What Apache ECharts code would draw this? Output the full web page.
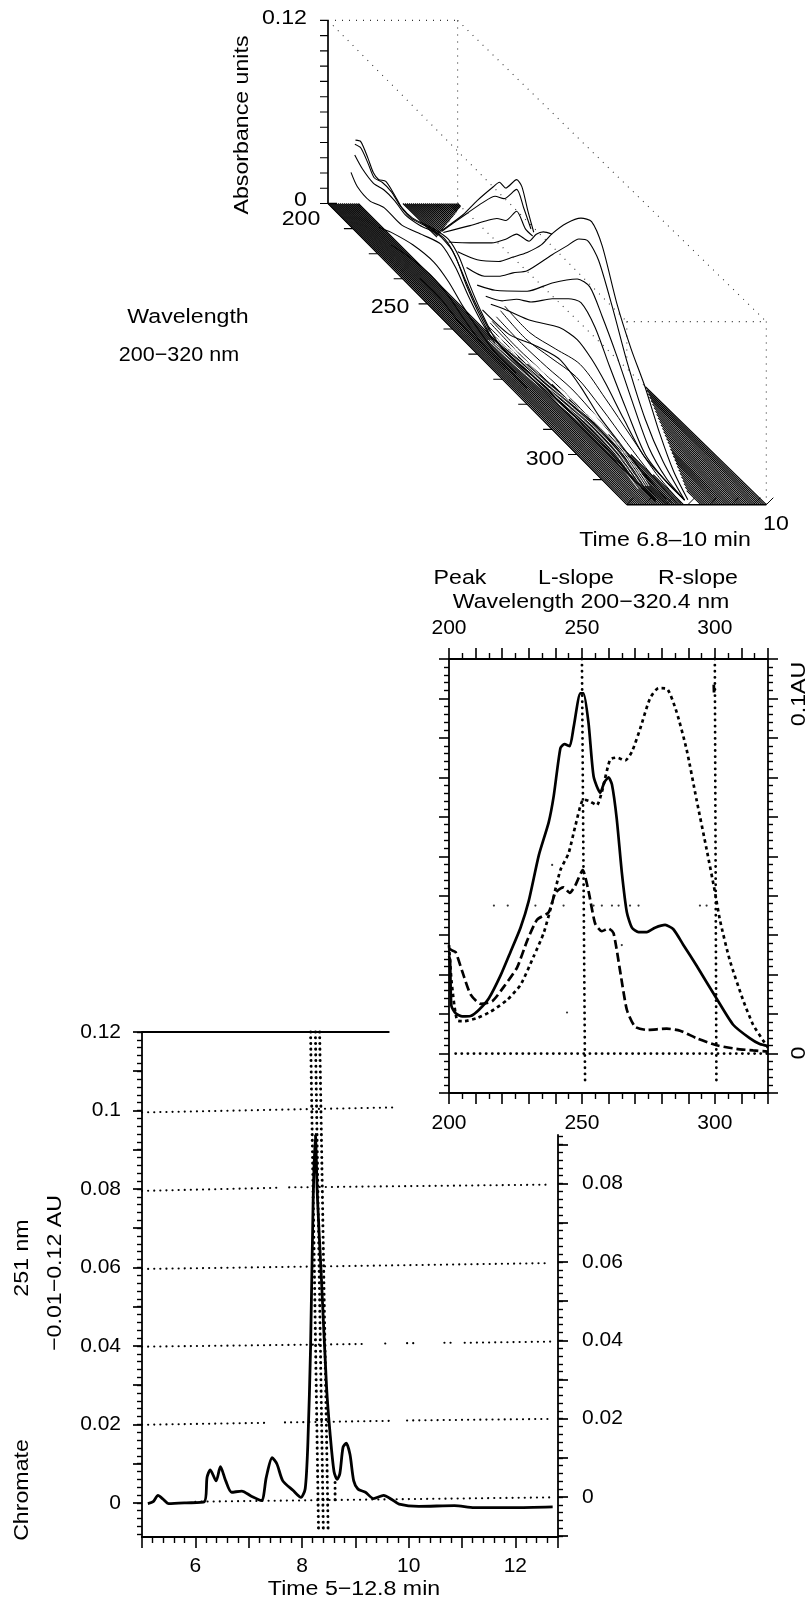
<!DOCTYPE html>
<html><head><meta charset="utf-8">
<style>html,body{margin:0;padding:0;background:#fff}#c{width:812px;height:1602px}</style>
<script src="https://cdn.jsdelivr.net/npm/echarts@6/dist/echarts.min.js"></script>
</head><body><div id="c"></div>
<script>
// ---------- spectra panel (wavelength nm / absorbance AU)
const peakWl=[200,200.4,200.9,202.5,205,208.1,211.3,215,219.4,223.1,226.9,230,233.8,237.5,239.4,241.9,243.4,245.4,246.9,249.4,250.6,252.5,254.4,256.9,258.4,260,261.3,263.1,265,266.9,268.8,271.3,274.4,277.5,281.3,284.4,288.1,293.1,300.6,306.9,313.1,316.9,320];
const peakAu=[.0247,.0237,.0121,.0102,.0094,.0095,.0111,.014,.0198,.0257,.0319,.0387,.0503,.0586,.0653,.0774,.0784,.0779,.0828,.0913,.0913,.0837,.0702,.0661,.0687,.07,.0682,.0595,.046,.0358,.0319,.0308,.0308,.0319,.0326,.0315,.0276,.0223,.014,.0073,.0039,.0024,.0019];
const rslopeWl=[200,201,203.1,205.6,210.6,215.6,221.9,226.9,231.9,235.6,238.8,241.9,245,247.5,250.6,253.1,255.6,257.5,260.6,263.1,266.3,268.8,271.9,275.6,278.8,281.9,285.6,289.4,293.1,296.9,300,301.9,305.6,310.6,314.4,318.1,320];
const rslopeAu=[.0275,.018,.0084,.0082,.009,.0106,.0136,.0174,.0247,.0305,.0382,.0465,.0508,.0576,.0644,.0639,.0629,.0663,.0745,.075,.0743,.0765,.0823,.09,.0926,.0925,.0866,.077,.0644,.0518,.0411,.0339,.0237,.0136,.0073,.0034,.0015];
const lslopeWl=[200,201.3,202.5,205,208.1,211.9,216.3,220.6,225.6,229.4,233.1,237.5,240,243.1,245.4,247.5,250.3,252.5,255,257.5,260,261.9,264.4,266.9,270,274.4,281.9,286.9,293.1,300.6,308.1,314.4,320];
const lslopeAu=[.0266,.0261,.0257,.0208,.015,.0126,.0133,.0169,.0218,.0286,.0339,.0358,.0407,.0421,.0407,.0426,.0465,.0411,.0329,.031,.0317,.0305,.0208,.0111,.0068,.006,.0063,.0058,.0039,.0021,.0012,.0008,.0005];
const specksWl=[216.9,222.1,232.5,243.1,254.4,257.5,261.3,263.8,268.1,271.3,294.4,296.9,238.8,265,244.4];
const specksAu=[.0375,.0375,.0375,.0375,.0375,.0375,.0375,.0375,.0375,.0375,.0375,.0375,.0478,.0275,.0104];
const specXTicks=[200,250,300];
// ---------- chromatogram panel (time min / AU)
const chromT=[5.11,5.21,5.3,5.39,5.5,5.83,6.17,6.22,6.28,6.39,6.47,6.57,6.68,6.87,7.05,7.24,7.33,7.44,7.53,7.64,7.83,7.98,8.06,8.11,8.16,8.21,8.25,8.29,8.36,8.46,8.53,8.6,8.66,8.71,8.77,8.83,8.9,8.97,9.05,9.19,9.34,9.53,9.67,9.82,10.19,10.86,11.23,11.96,12.7];
const chromAu=[-.0002,.0003,.0019,.001,-.0002,0,.0003,.0065,.0084,.0056,.0092,.0056,.0027,.003,.0017,.0006,.0065,.0115,.0099,.0056,.0032,.0014,.0036,.0152,.0392,.0776,.0939,.0776,.0584,.0296,.0171,.008,.006,.0075,.0142,.0152,.0123,.0056,.0035,.0027,.0011,.0019,.001,-.0003,-.0009,-.0007,-.0012,-.0012,-.001];
const chromLeftLabels=[0,.02,.04,.06,.08,.1,.12];
const chromRightLabels=[0,.02,.04,.06,.08];
const chromXLabels=[6,8,10,12];
// tilted dotted reference lines: [t, AU] pairs, null = gap
const ref10=[[5,.0995],[9.8,.1008]];
const ref08=[[5,.0795],[7.53,.0803],null,[7.76,.0804],[12.63,.0811]];
const ref06=[[5,.0596],[12.63,.0611]];
const ref04=[[5,.0398],[9.23,.0405],null,[9.56,.0406],[9.6,.0406],null,[9.97,.0407],[10.19,.0407],null,[10.67,.0408],[10.86,.0408],null,[11.05,.0408],[12.67,.0411]];
const ref02=[[5,.0199],[7.35,.0204],null,[7.68,.0205],[9.64,.0209],null,[9.97,.021],[12.67,.0214]];
const ref00=[[6.0,.0003],[12.67,.0014]];
const vDotA=[[8.16,.12],[8.31,-.0074]];
const vDotB=[[8.25,.12],[8.4,-.0074]];
const vDotC=[[8.33,.12],[8.49,-.0074]];
const vDotD=[[8.62,.0052],[8.62,.0005]];
// ---------- waterfall traces: time (min), wavelength (nm), absorbance (AU)
const traceA={t:8.2,wl:[222.5,231,236.6,243,245.4,247.9,252.2,254.3,256.7,259],au:[.0192,.0436,.0621,.0817,.0886,.0889,.1015,.1004,.0882,.0782]};
const traceB={t:8.2,wl:[222.5,232.4,238.8,243.7,247.2,252.2,255,257.9],au:[.0187,.0466,.0644,.0766,.0808,.0951,.0877,.0785]};
const traceC={t:8.2,wl:[223.2,233.8,240.9,244.4,247.9,252.2,255.7,258.6],au:[.0192,.0411,.0563,.0632,.0676,.0808,.075,.075]};
const traceD={t:8.2,wl:[225.3,233.8,242.3,247.9,252.2,257.1,260,262.8,266.3],au:[.0164,.0298,.0438,.0554,.0658,.0692,.0785,.0847,.0889]};
const traceE={t:8.2,wl:[228.9,236.6,245.1,250.8,256.4,262.1,266.3,272,277.7,281.9,286.1,291.8,297.5,303.1,308.8,314.4,320],au:[.0159,.0233,.0362,.0485,.0607,.0752,.0893,.1055,.1182,.1228,.1138,.0861,.0653,.0492,.0286,.0125,.0032]};
const traceF={t:8.2,wl:[232.4,239.5,245.1,250.8,256.4,266.3,272,276.9,280.5,284.7,290.4,296,303.1,310.2,318.7],au:[.0113,.0173,.0265,.0381,.0487,.0755,.0905,.1032,.1078,.102,.0792,.0538,.0284,.0122,.0009]};
const traceG={t:8.2,wl:[236.6,243.7,256.4,266.3,276.2,281.2,286.1,291.8,297.5,304.5,311.6,318.7],au:[.0067,.015,.0353,.057,.0759,.0789,.0676,.0515,.033,.0122,.0032,.0009]};
const traceH={t:8.2,wl:[240,246.5,252.2,257.9,266.3,272.7,277.7,283.3,289,296,303.1,311.6,318.7],au:[.005,.0127,.0231,.0307,.0466,.0572,.0628,.0558,.0397,.0215,.0053,.0009,.0009]};
const traceI={t:8.2,wl:[242,247.9,257.9,269.2,276.2,281.9,287.6,294.6,303.1,318.7],au:[.003,.0092,.0185,.0325,.0362,.0328,.0258,.0145,.003,.0009]};
const traceJ={t:7.8,wl:[245.3,256,266,276,284.4,291.5,300,308.5,318.5],au:[.0048,.0062,.0157,.0228,.0185,.0115,.0072,.0028,.001]};
const traceK={t:7.55,wl:[251.5,261.5,272.9,284.3,295.7,307.1,318.5],au:[0,0,.0018,.0021,.0025,.0005,.0007]};
const traceL1={t:7.46,wl:[200.3,202.4,205.3,207.4,209.5,212.4,216,218.8,223.1,231.6,237.3,241.6,245.9,250.1,255.8,263,320],au:[.042,.0445,.0383,.0325,.0314,.0349,.0316,.0282,.0284,.0353,.038,.0335,.022,.0127,.0037,.0016,.002]};
const traceL2={t:7.42,wl:[200.7,203.1,206,208.4,211.7,215.3,218.8,223.1,231,236.7,240.9,245.2,249.5,255.2],au:[.04,.0415,.036,.0307,.033,.0328,.0293,.0284,.0344,.0369,.0323,.0208,.0118,.0028]};
const traceL3={t:7.38,wl:[201.3,204.4,208.7,213,217.3,221.5,227.2,234.4,240.1,245.1,249.4,255.1],au:[.0339,.0298,.0277,.0302,.0302,.0279,.0305,.0365,.0355,.0254,.0162,.0072]};
const traceL4={t:7.3,wl:[201.1,203.6,208.6,214.3,221.4,230,237.1,242.9,247.9,252.9,258.6],au:[.0222,.0171,.0159,.0208,.021,.0286,.0342,.0286,.0185,.0104,.0048]};
const traceL5={t:7.22,wl:[213.5,218.5,227.1,235.6,241.4,247.1,252.8,259.9,268.5],au:[.0067,.0115,.0175,.02,.0168,.0102,.0055,.0012,.0014]};
const traceL6={t:7.16,wl:[219.4,226.6,235.1,242.3,248,255.1,263.7,273.7],au:[.0048,.0088,.0111,.0092,.0046,.0002,0,0]};
const traceL7={t:7.1,wl:[231.9,240.4,247.6,256.1,266.1],au:[.0035,.0037,.0005,0,0]};
const blurWl=[250,260,270,280,290,300,310,320];
const blurT1={t:7.6,au:[.001,.001,.001,.001,.001,.001,.0005,0]};
const blurT2={t:7.65,au:[.002,.002,.002,.002,.002,.001,.001,0]};
const blurT3={t:7.7,au:[.004,.003,.003,.004,.003,.002,.001,.0005]};
const blurT4={t:7.75,au:[.005,.004,.005,.006,.005,.003,.001,.0005]};
const blurT5={t:7.85,au:[.008,.007,.008,.01,.008,.005,.002,.001]};
const blurT6={t:7.95,au:[.012,.01,.014,.018,.014,.008,.003,.001]};
const blurT7={t:8.05,au:[.015,.014,.02,.026,.02,.012,.004,.001]};
// pale streaks visible inside the dark band
const paleWl=[255,265,275,285,295,305,315];
const paleT1={t:7.5,au:[.002,.005,.007,.01,.013,.012,.004]};
const paleT2={t:7.45,au:[.001,.004,.006,.009,.011,.01,.003]};
const paleT3={t:7.4,au:[.001,.003,.005,.008,.01,.009,.003]};
const paleT4={t:7.55,au:[.002,.006,.009,.012,.014,.012,.004]};
const paleT5={t:7.6,au:[.003,.007,.01,.014,.015,.012,.004]};
const paleT6={t:7.35,au:[.001,.002,.004,.006,.008,.007,.002]};
// baseline hatching: times of the near-zero scans
const leftBaseT=[6.8,6.85,6.9,6.95,7,7.05,7.1,7.15,7.2,7.25,7.3,7.35,7.4,7.45,7.5,7.55];
const midBaseT=[7.6,7.65,7.7,7.75,7.8,7.85,7.9,7.95,8,8.05,8.1];
const midBaseFrom=[255,258,261,264,268,272,278,284,292,300,308];
const rightBaseT=[8.5,8.55,8.6,8.65,8.7,8.75,8.8,8.85,8.9,8.95,9,9.05,9.1,9.15,9.2,9.25,9.3,9.35,9.4,9.45,9.5,9.55,9.6,9.65,9.7,9.75,9.8,9.85,9.9,9.95,10];
// wavelength at which each right-hand scan re-emerges from behind the peak traces
const rightBaseFrom=[314.4,313,311.6,310.3,308.9,307.5,306.1,304.7,303.4,302,300.6,299.2,297.8,296.5,295.1,293.7,292.3,290.9,289.6,288.2,286.8,285.4,284,282.7,281.3,279.9,278.5,277.1,275.8,274.4,273];
// wavelength up to which each scan is visible at the far end
const rightBaseTo=[0,0,0,213.4,212.9,212.5,212,211.7,211.1,210.7,210.2,209.7,209.3,208.8,208.4,207.9,207.5,207.1,206.6,206.1,205.7,205.3,204.8,204.4,203.9,203.5,203,202.5,202.1,201.7,201.2];
const wfAuTicks=[0,.01,.02,.03,.04,.05,.06,.07,.08,.09,.1,.11,.12];
const wfWlTicks=[210,220,230,240,250,260,270,280,290,300,310];
const wfTimeTicks=[6.8,7.2,7.7,8.2,8.7,9.2,9.7,10];

// ---------- projection of (wavelength, time, AU) onto the oblique plane
const pr=(w,t,a,ox=0,oy=0)=>{const d=w-200;return [d*2.49+(40.5+.0258*d)*(t-6.8)+ox,a*1526-d*2.51+oy];};
const ink='#000';
const font='"Liberation Sans",Arial,sans-serif';
const series=[];
const line=(data,o={})=>series.push(Object.assign({type:'line',xAxisIndex:0,yAxisIndex:0,data,showSymbol:false,symbol:'none',silent:true,animation:false,clip:false,connectNulls:false,lineStyle:{color:ink,width:1}},o));
const gap=['-','-'];
// waterfall baseline hatch
const leftHatch=[];leftBaseT.forEach(t=>leftHatch.push(pr(200,t,0),pr(320,t,0),gap));
midBaseT.forEach((t,i)=>leftHatch.push(pr(midBaseFrom[i],t,0),pr(320,t,0),gap));
const rightHatch=[];rightBaseT.forEach((t,i)=>{rightHatch.push(pr(rightBaseFrom[i],t,0),pr(320,t,0),gap);if(rightBaseTo[i])rightHatch.push(pr(200,t,0),pr(rightBaseTo[i],t,0),gap);});
line(leftHatch,{lineStyle:{color:'#000',width:1.15}});
line(rightHatch,{lineStyle:{color:'#000',width:1.15}});
// waterfall frame
const dotted={color:'#333',width:1.1,type:[1,6]};
[[[200,6.8,.12],[200,10,.12]],[[200,10,0],[200,10,.12]],[[200,6.8,.12],[320,6.8,.12]],[[200,10,.12],[320,10,.12]],[[320,6.8,.12],[320,10,.12]],[[320,10,.12],[320,10,0]],[[200,10,0],[273,10,0]],[[320,6.8,.12],[320,6.8,.095]]]
 .forEach(s=>line(s.map(p=>pr(...p)),{lineStyle:dotted}));
line([pr(200,6.8,0),pr(200,6.8,.12)],{lineStyle:{color:ink,width:1.7}});
line([pr(200,6.8,0),pr(320,6.8,0)],{lineStyle:{color:ink,width:1}});
line([pr(320,6.8,0),pr(320,10,0)],{lineStyle:{color:ink,width:1.6}});
const t1=[];wfAuTicks.forEach(a=>t1.push(pr(200,6.8,a,-8,0),pr(200,6.8,a),gap));line(t1,{lineStyle:{color:ink,width:1.1}});
line([pr(200,6.8,0,9,0),pr(200,6.8,0)],{lineStyle:{color:ink,width:1.6}});
const t2=[];wfWlTicks.forEach(w=>t2.push(pr(w,6.8,0,-9,0),pr(w,6.8,0),gap));line(t2,{lineStyle:{color:ink,width:1.1}});
const t3=[];wfTimeTicks.forEach(t=>t3.push(pr(320,t,0),pr(320,t,0,7,7),gap));line(t3,{lineStyle:{color:ink,width:1}});
// waterfall traces
[blurT1,blurT2,blurT3,blurT4,blurT5,blurT6,blurT7].forEach(b=>line(blurWl.map((w,i)=>pr(w,b.t,b.au[i])),{smooth:.3,lineStyle:{color:'#000',width:1}}));
[paleT1,paleT2,paleT3,paleT4,paleT5,paleT6].forEach(b=>line(paleWl.map((w,i)=>pr(w,b.t,b.au[i])),{smooth:.3,lineStyle:{color:'#fff',width:1}}));
[traceL7,traceL6,traceL5,traceL4,traceL3,traceL2,traceL1,traceK,traceJ,traceI,traceH,traceG,traceF,traceE,traceD,traceC,traceB,traceA]
 .forEach(tr=>line(tr.wl.map((w,i)=>pr(w,tr.t,tr.au[i])),{smooth:.25,lineStyle:{color:'#000',width:1.1}}));
// ---------- spectra
const zip=(x,y)=>x.map((v,i)=>[v,y[i]]);
const S={xAxisIndex:1,yAxisIndex:1};
line(zip(peakWl,peakAu),{...S,smooth:.2,lineStyle:{color:ink,width:2.7}});
line(zip(lslopeWl,lslopeAu),{...S,smooth:.2,lineStyle:{color:ink,width:2.7,type:[9,4]}});
line(zip(rslopeWl,rslopeAu),{...S,smooth:.2,lineStyle:{color:ink,width:2.7,type:[3.5,3.5]}});
const dots={color:ink,width:2.8,type:[.1,6],cap:'round'};
line([[202.5,0],[320,0]],{...S,lineStyle:dots});
line([[250,.1],[251.2,-.0082]],{...S,lineStyle:dots});
line([[300,.1],[300.6,-.0082]],{...S,lineStyle:dots});
line([[299.6,.0935],[299.7,.0915]],{...S,lineStyle:{color:ink,width:2.8}});
series.push({type:'scatter',...S,silent:true,animation:false,symbolSize:2.2,itemStyle:{color:ink},data:zip(specksWl,specksAu)});
// ---------- chromatogram
const C={xAxisIndex:3,yAxisIndex:3};
const thin={color:ink,width:2.1,type:[.1,6],cap:'round'};
const gaps=a=>a.map(p=>p||gap);
[ref10,ref08,ref06,ref04,ref02,ref00].forEach(r=>line(gaps(r),{...C,lineStyle:thin}));
const thick={color:ink,width:3,type:[.1,5.6],cap:'round'};
[vDotA,vDotB,vDotC,vDotD].forEach(r=>line(r,{...C,lineStyle:thick}));
line(zip(chromT,chromAu),{...C,smooth:.25,lineStyle:{color:ink,width:2.8}});
line([[5,.12],[9.64,.12]],{...C,lineStyle:{color:ink,width:2}});
// ---------- axis helpers
const steps=(a,b,s)=>{const o=[];for(let i=Math.ceil(a/s-1e-9);i*s<=b+1e-9;i++)o.push(+(i*s).toFixed(4));return o;};
const hid={show:false};
const txt={color:'#000',fontFamily:font,fontSize:21};
const axL={lineStyle:{color:ink,width:1.8},onZero:false};
const xAxes=[
 {gridIndex:0,type:'value',min:-40,max:460,show:false},
 {gridIndex:1,type:'value',position:'bottom',min:200,max:320,interval:10,axisLine:axL,axisTick:{length:11,lineStyle:{color:ink,width:1.6}},minorTick:{show:true,splitNumber:2,length:6,lineStyle:{color:ink,width:1.4}},splitLine:hid,minorSplitLine:hid,axisLabel:{...txt,customValues:specXTicks,margin:20,hideOverlap:false}},
 {gridIndex:1,type:'value',position:'top',min:200,max:320,interval:10,axisLine:axL,axisTick:{length:11,lineStyle:{color:ink,width:1.6}},minorTick:{show:true,splitNumber:2,length:6,lineStyle:{color:ink,width:1.4}},splitLine:hid,minorSplitLine:hid,axisLabel:{...txt,customValues:specXTicks,margin:20,hideOverlap:false}},
 {gridIndex:2,type:'value',position:'bottom',min:5,max:12.8,interval:1,axisLine:axL,axisTick:{length:11,lineStyle:{color:ink,width:1.6}},minorTick:{show:true,splitNumber:5,length:6,lineStyle:{color:ink,width:1.4}},splitLine:hid,minorSplitLine:hid,axisLabel:{...txt,customValues:chromXLabels,margin:19,hideOverlap:false}},
 {gridIndex:3,type:'value',min:5,max:12.8,show:false}
];
const yT=(len,w)=>({length:len,lineStyle:{color:ink,width:w}});
const specY=(pos)=>({gridIndex:1,type:'value',position:pos,min:-.01,max:.1,interval:.01,axisLine:axL,axisTick:yT(10,1.6),minorTick:{show:true,splitNumber:5,length:5,lineStyle:{color:ink,width:1.4}},splitLine:hid,minorSplitLine:hid,axisLabel:{show:false}});
const yAxes=[
 {gridIndex:0,type:'value',min:-320,max:193.5,show:false},
 specY('left'),specY('right'),
 {gridIndex:2,type:'value',position:'left',min:-.0087,max:.12,axisLine:axL,axisTick:{...yT(9,1.7),customValues:steps(-.0087,.12,.01)},splitLine:hid,axisLabel:{...txt,customValues:chromLeftLabels,margin:21,formatter:v=>String(v),hideOverlap:false}},
 {gridIndex:2,type:'value',position:'left',min:-.0087,max:.12,axisLine:{show:false,onZero:false},axisTick:{...yT(5,1.4),customValues:steps(-.0087,.12,.002)},splitLine:hid,axisLabel:{show:false}},
 {gridIndex:3,type:'value',position:'right',min:-.0102,max:.0924,axisLine:axL,axisTick:{...yT(10,1.7),customValues:steps(-.01,.0924,.01)},splitLine:hid,axisLabel:{...txt,customValues:chromRightLabels,margin:24,formatter:v=>String(v),hideOverlap:false}},
 {gridIndex:3,type:'value',position:'right',min:-.0102,max:.0924,axisLine:{show:false,onZero:false},axisTick:{...yT(5,1.4),customValues:steps(-.01,.0924,.002)},splitLine:hid,axisLabel:{show:false}}
];
const T=(text,x,y,o={})=>({type:'text',x,y,rotation:o.rot?Math.PI/2:0,scaleX:o.sx||1.13,silent:true,style:{text,fill:'#000',font:'20.5px '+font,textAlign:o.align||'center',textVerticalAlign:'middle'}});
const graphic=[
 T('0.12',307,18,{align:'right'}),T('0',307,200,{align:'right'}),T('200',301,219),T('250',390,307),T('300',545,459),
 T('Absorbance units',242,125,{rot:1}),T('Wavelength',188,317),T('200\u2212320 nm',179,355,{sx:1.05}),T('Time 6.8\u201310 min',665,540),T('10',776,524),
 T('Peak',460,578),T('L-slope',576,578),T('R-slope',698,578),T('Wavelength 200\u2212320.4 nm',591,602),
 T('0.1AU',799,694,{rot:1}),T('0',799,1053,{rot:1}),
 T('251 nm',22,1258,{rot:1}),T('\u22120.01\u22120.12 AU',55,1273,{rot:1}),T('Chromate',22,1490,{rot:1}),T('Time 5\u221212.8 min',354,1589)
];
echarts.init(document.getElementById('c'),null,{renderer:'canvas'}).setOption({
 animation:false,backgroundColor:'#fff',
 grid:[
  {left:288,width:500,top:10,height:513.5},
  {left:449,width:319,top:659,height:434},
  {left:142,width:416,top:1032,height:505},
  {left:142,width:416,top:1135,height:402}
 ],
 xAxis:xAxes,yAxis:yAxes,series,graphic:{elements:graphic}
});
</script></body></html>
